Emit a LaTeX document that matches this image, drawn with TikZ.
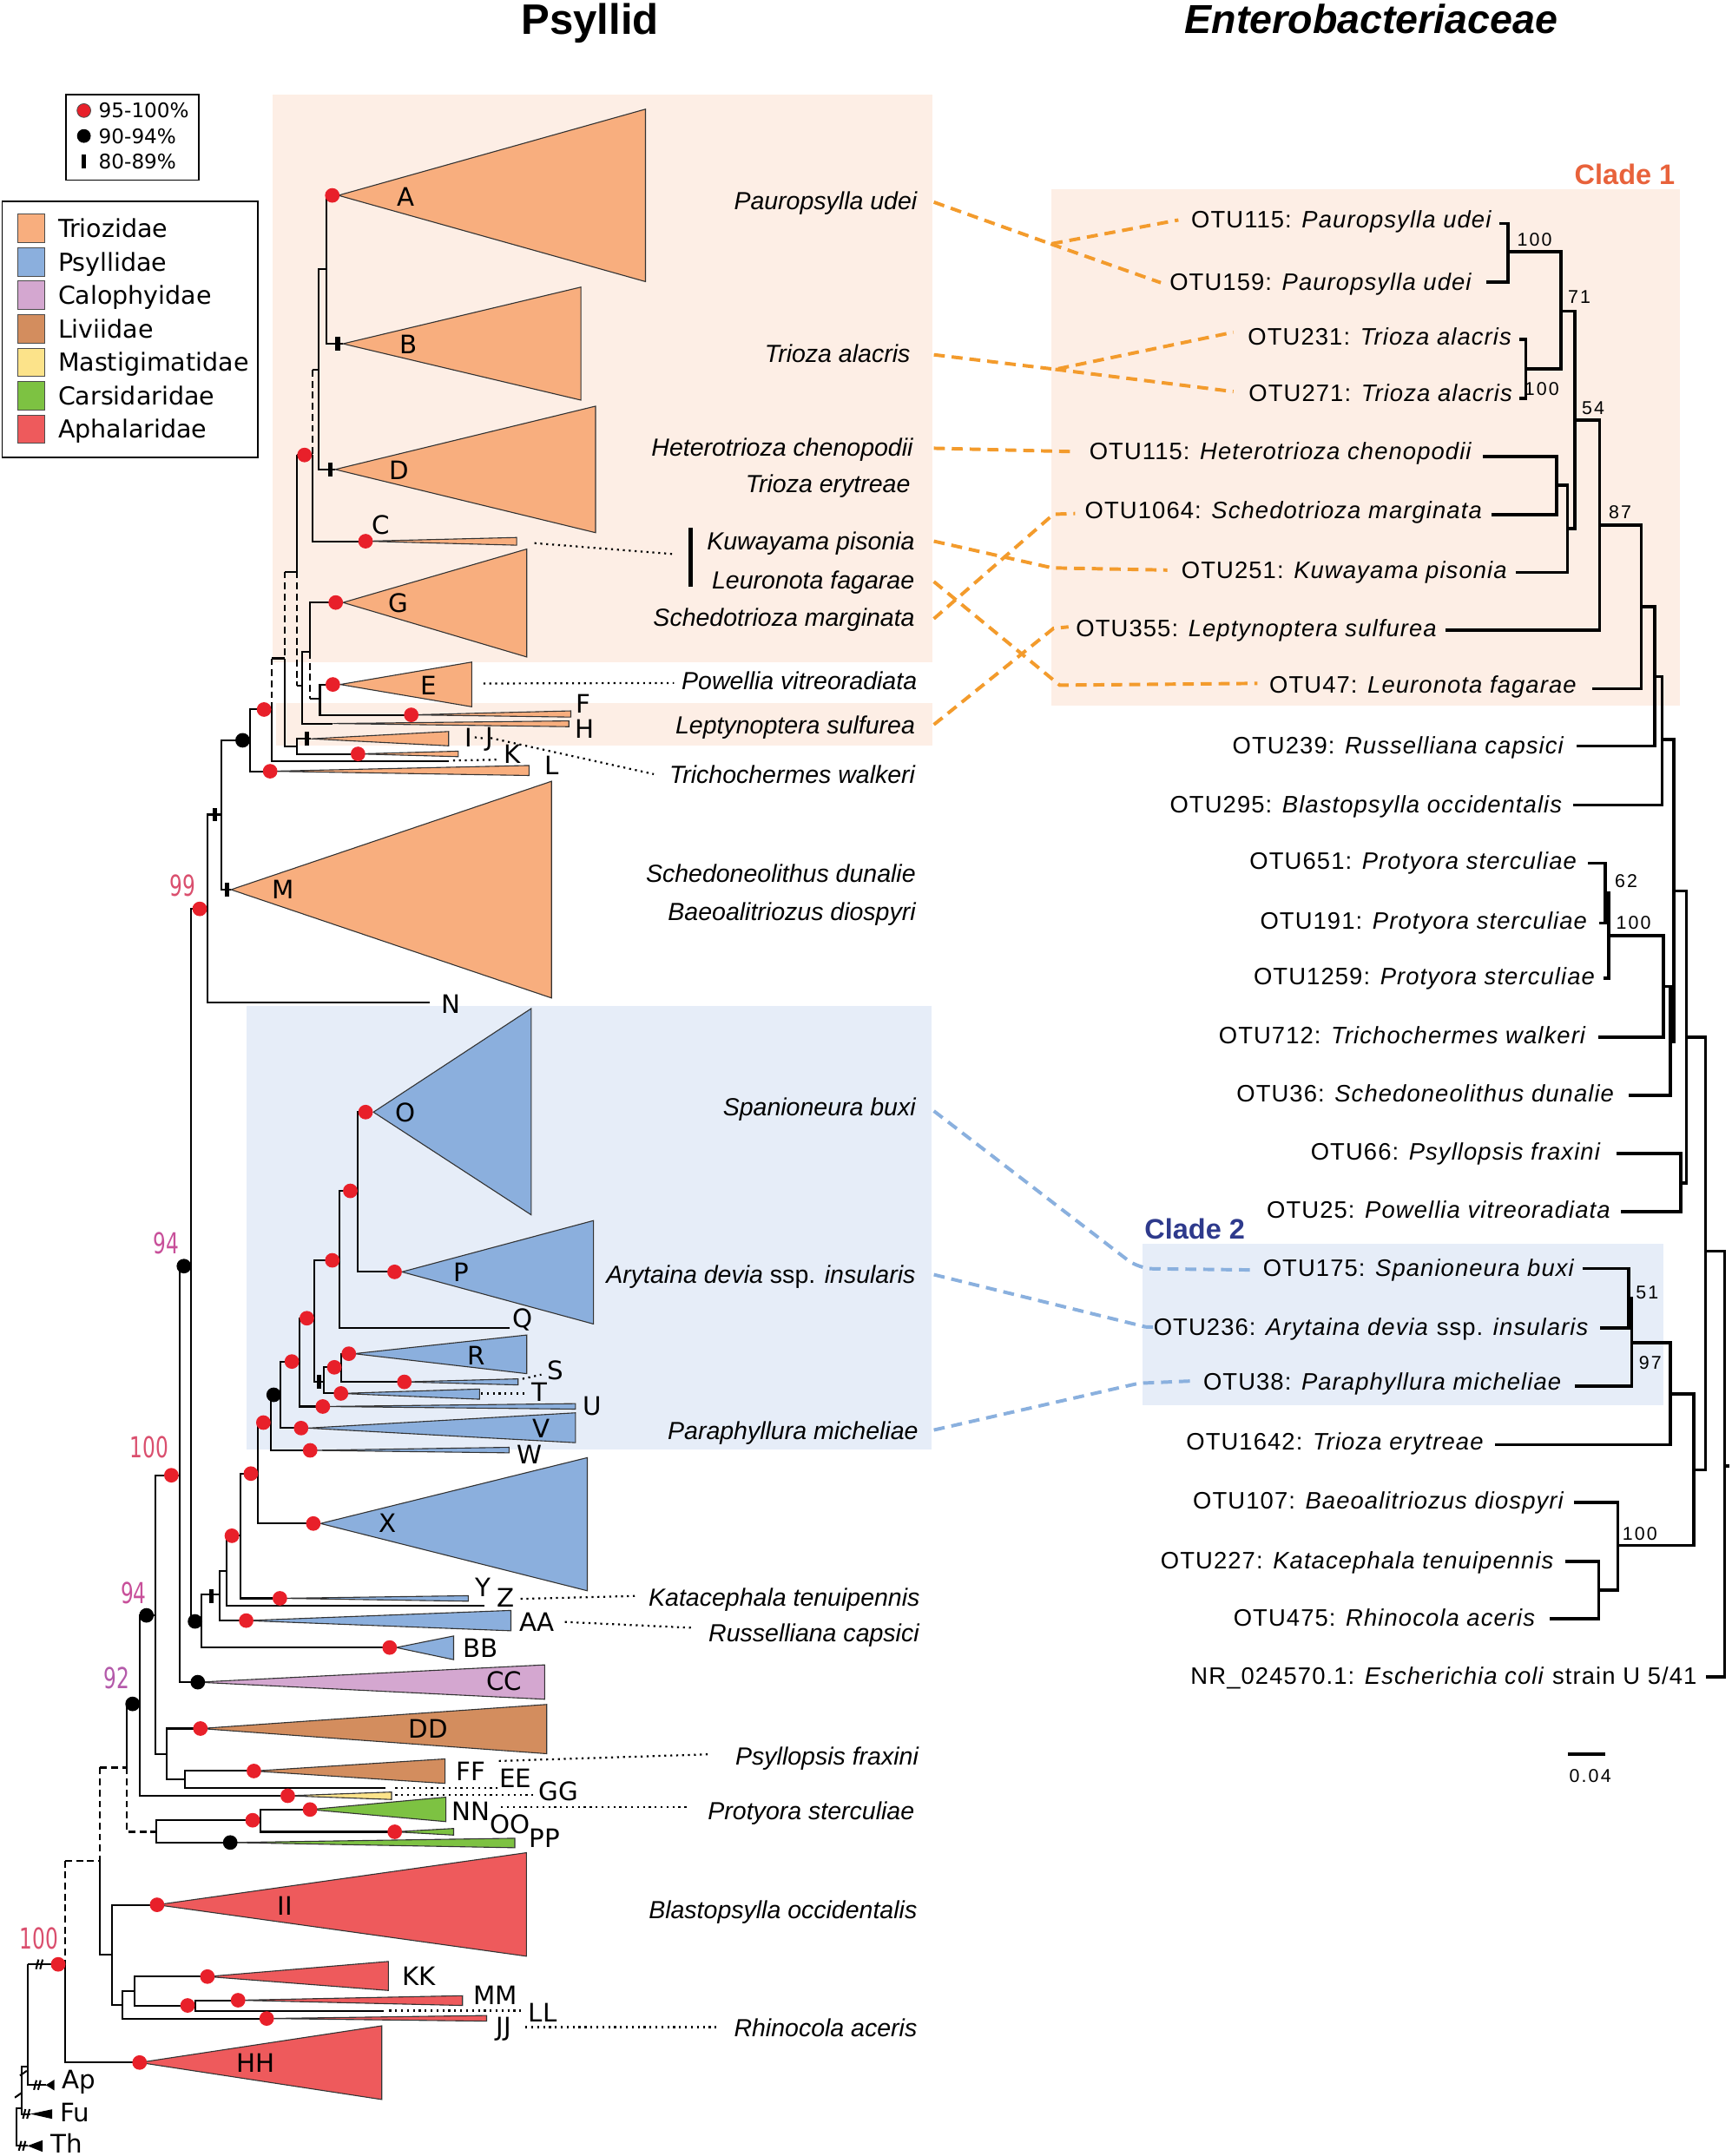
\documentclass[tikz,border=0pt]{standalone}
\usepackage{fontspec}
\setmainfont{Liberation Sans}
\newfontfamily\dvfont{DejaVu Sans}
\newfontfamily\dvnarrow[FakeStretch=0.7]{DejaVu Sans}
\newfontfamily\otufont[LetterSpace=4]{Liberation Sans}
\newfontfamily\bsfont[LetterSpace=10]{Liberation Sans}
\definecolor{cTrio}{HTML}{F8AE7E}
\definecolor{cPsy}{HTML}{8BAFDD}
\definecolor{cCalo}{HTML}{D4A7D0}
\definecolor{cLiv}{HTML}{D38D5E}
\definecolor{cMast}{HTML}{FCE38A}
\definecolor{cCars}{HTML}{7DC242}
\definecolor{cAph}{HTML}{EE5A5C}
\definecolor{bgO}{HTML}{FDEEE5}
\definecolor{bgB}{HTML}{E6EDF8}
\definecolor{cRed}{HTML}{E8202A}
\definecolor{cOdash}{HTML}{F39B2C}
\definecolor{cBdash}{HTML}{8AB0DE}
\definecolor{cClA}{HTML}{E8623B}
\definecolor{cClB}{HTML}{2E3A8C}
\definecolor{sA}{HTML}{DA4F6E}
\definecolor{sB}{HTML}{C8509A}
\definecolor{sC}{HTML}{B45AAA}
\tikzset{
  br/.style={line width=1.3pt},
  rb/.style={line width=2.3pt},
  dsh/.style={line width=1.3pt, dash pattern=on 5pt off 3pt},
  dot/.style={line width=1.4pt, dash pattern=on 1.4pt off 2.9pt},
  odash/.style={line width=2.5pt, cOdash, dash pattern=on 8pt off 5pt},
  bdash/.style={line width=2.5pt, cBdash, dash pattern=on 8pt off 5pt},
  trio/.style={draw=black!80, line width=0.7pt},
  lett/.style={font=\dvfont\fontsize{18.5}{20}\selectfont, inner sep=0pt},
  lname/.style={font=\fontsize{18}{20}\selectfont\itshape, anchor=base east, inner sep=0pt},
  otul/.style={font=\otufont\fontsize{17.3}{19}\selectfont, anchor=base east, inner sep=0pt},
  bsv/.style={font=\bsfont\fontsize{13.5}{15}\selectfont, inner sep=0pt},
  lsv/.style={font=\dvnarrow\fontsize{21}{22}\selectfont, inner sep=0pt},
}
\newcommand\phrd[2]{\fill[cRed] (#1,#2) circle[radius=5.3pt];}
\newcommand\phbd[2]{\fill[black] (#1,#2) circle[radius=5.3pt];}
\newcommand\phbar[2]{\fill[black] (#1-1.7,#2-5) rectangle (#1+1.7,#2+5);}
\newcommand\phtri[6]{\filldraw[trio,fill=#6] (#1,#2) -- (#3,#4) -- (#3,#5) -- cycle;}
\newcommand\phlab[3]{\node[lett] (L#1) at (#2,#3) {#1};}
\begin{document}
\begin{tikzpicture}[x=1pt,y=-1pt]
\useasboundingbox (0,0) rectangle (1259,1568);
% backgrounds
\fill[bgO] (198,69) rectangle (678,481.5);
\fill[bgO] (201,511) rectangle (678,542);
\fill[bgB] (179,731.4) rectangle (677,1054.4);
\fill[bgO] (764.7,137.5) rectangle (1221.2,513);
\fill[bgB] (830.6,904.5) rectangle (1209.3,1021.7);
% titles
\node[font=\fontsize{31}{33}\selectfont\bfseries, anchor=base, inner sep=0pt] (t1) at (429,25) {Psyllid};
\node[font=\fontsize{29.4}{32}\selectfont\bfseries\itshape, anchor=base, inner sep=0pt] (t2) at (997,24.5) {Enterobacteriaceae};
\node[font=\fontsize{20.5}{22}\selectfont\bfseries, text=cClA, anchor=base east, inner sep=0pt] (cl1) at (1218,134) {Clade 1};
\node[font=\fontsize{20.5}{22}\selectfont\bfseries, text=cClB, anchor=base west, inner sep=0pt] (cl2) at (832,901) {Clade 2};
% legend 1
\draw[line width=1pt] (48,68.8) rectangle (144.4,130.9);
\filldraw[fill=cRed, draw=black!70, line width=0.5pt] (61,80.4) circle[radius=5pt];
\fill[black] (61,98.9) circle[radius=5pt];
\phbar{61}{117.2}
\foreach \t/\y [count=\i] in {95-100\%/80.4, 90-94\%/98.9, 80-89\%/117.2}
  \node[font=\dvfont\fontsize{14.6}{16}\selectfont, anchor=base west, inner sep=0pt] (lg\i) at (71.6,\y+5.3) {\t};
% legend 2
\draw[line width=1pt] (1.7,146.3) rectangle (187.3,332.5);
\foreach \c/\t [count=\i] in {cTrio/Triozidae, cPsy/Psyllidae, cCalo/Calophyidae, cLiv/Liviidae, cMast/Mastigimatidae, cCars/Carsidaridae, cAph/Aphalaridae}{
  \pgfmathsetmacro\yy{166.1+24.33*(\i-1)}
  \filldraw[fill=\c, draw=black!70, line width=0.6pt] (13,\yy-10.3) rectangle (32.8,\yy+10.3);
  \node[font=\dvfont\fontsize{18}{20}\selectfont, anchor=base west, inner sep=0pt] (fam\i) at (42.1,\yy+6.6) {\t};
}
% orange connectors
\draw[odash] (679,147)--(764,177.4)--(856.8,160);
\draw[odash] (764,177.4)--(844,205.6);
\draw[odash] (679,258)--(767.3,268.6)--(896.8,241.6);
\draw[odash] (767.3,268.6)--(896.8,284.8);
\draw[odash] (679,326)--(781.7,328.5);
\draw[odash] (679,393.6)--(765,413)--(848.8,414.6);
\draw[odash] (679,423)--(770.5,498.3)--(914.3,497);
\draw[odash] (679,450)--(766,374)--(781.7,373.5);
\draw[odash] (679,527)--(766,457)--(776.9,455.9);
% blue connectors
\draw[bdash, rounded corners=10pt] (679,808)--(828,922.6)--(913,923.6);
\draw[bdash] (679,927)--(833,965)--(839,965.2);
\draw[bdash] (679,1040)--(828,1006)--(869.7,1004.2);
% dotted leader lines
\draw[dot] (388.6,395)--(490.1,403);
\draw[dot] (351.5,497.1)--(490.1,496.7);
\draw[dot] (356.7,536.7)--(475.4,563);
\draw[dot] (329.4,553.1)--(362,552.5);
\draw[dot] (345.2,536.2)--(352.5,537.1);
\draw[dot] (379.9,1002.8)--(393.6,999.7);
\draw[dot] (349.7,1013.4)--(381.3,1013.4);
\draw[dot] (378.5,1162.8)--(462.2,1160.7);
\draw[dot] (410.7,1179.6)--(502.5,1183.8);
\draw[dot] (362.7,1280.7)--(517.4,1275.8);
\draw[dot] (287.5,1300.2)--(363.6,1300.2);
\draw[dot] (287.5,1305.5)--(390.4,1305.5);
\draw[dot] (364.3,1314.3)--(501.3,1314.3);
\draw[dot] (283,1462.3)--(379,1462.3);
\draw[dot] (382,1474.3)--(520.6,1474.3);
\draw[line width=3pt] (502,384.1)--(502,426.8);
% triangles
\phtri{246}{142.1}{469.3}{79.4}{204.8}{cTrio}
\phtri{249.4}{250}{422.4}{208.8}{291}{cTrio}
\phtri{243.7}{341.4}{433}{295.4}{387.4}{cTrio}
\phtri{265.8}{393.6}{375.7}{390.9}{396.5}{cTrio}
\phtri{249.4}{438.2}{383}{399.3}{477.8}{cTrio}
\phtri{247.3}{497.8}{343}{481.5}{514}{cTrio}
\phtri{299}{519.9}{415}{517}{521.5}{cTrio}
\phtri{242}{526.2}{413.6}{524.3}{528.5}{cTrio}
\phtri{226.2}{537.3}{326.2}{532}{542.4}{cTrio}
\phtri{260.3}{548.3}{333.2}{546.3}{550.3}{cTrio}
\phtri{196.4}{560.9}{384.7}{556.7}{564}{cTrio}
\phtri{168}{647}{401}{568.2}{725.8}{cTrio}
\phtri{271.5}{808.8}{386.2}{733.5}{883.5}{cPsy}
\phtri{292.2}{925}{431.5}{887.7}{962.9}{cPsy}
\phtri{257.5}{984.5}{383}{970.9}{999}{cPsy}
\phtri{294}{1005}{376.7}{1002.8}{1007.2}{cPsy}
\phtri{247.9}{1013.4}{348.7}{1010.2}{1017.6}{cPsy}
\phtri{234.7}{1022.9}{418.4}{1020.8}{1024.8}{cPsy}
\phtri{224}{1038.6}{418.4}{1027.5}{1049.2}{cPsy}
\phtri{225.5}{1054.8}{370.1}{1052.6}{1056.6}{cPsy}
\phtri{233}{1108}{427}{1060.1}{1156.9}{cPsy}
\phtri{203.5}{1162.4}{340.5}{1160.5}{1164.5}{cPsy}
\phtri{179}{1178.6}{371.5}{1171.2}{1186}{cPsy}
\phtri{288}{1198.2}{329.8}{1189.8}{1207}{cPsy}
\phtri{143.8}{1223.4}{396}{1210.8}{1235.8}{cCalo}
\phtri{145.7}{1257.1}{397.5}{1239.6}{1275.4}{cLiv}
\phtri{184.6}{1288}{323.6}{1279.2}{1297}{cLiv}
\phtri{209.2}{1306}{284.7}{1303.3}{1308.7}{cMast}
\phtri{225.4}{1316}{324.2}{1307}{1324.8}{cCars}
\phtri{287}{1332.2}{329.8}{1329.8}{1334.6}{cCars}
\phtri{167.4}{1340}{374.3}{1336.9}{1343.8}{cCars}
\phtri{114.2}{1385.3}{382.8}{1347.4}{1422.7}{cAph}
\phtri{150.8}{1437.5}{282.4}{1426.5}{1447.6}{cAph}
\phtri{173.1}{1454.7}{336.3}{1451.4}{1458.5}{cAph}
\phtri{193.9}{1468}{353.8}{1465.8}{1469.9}{cAph}
\phtri{101.5}{1500}{277.6}{1473.3}{1526.9}{cAph}
% left tree branches (Triozidae part)
\draw[br] (241.6,142.1) -| (237.2,250) -- (249.4,250);
\draw[br] (237.2,195.7) -| (231.5,341.4) -- (243.7,341.4);
\draw[br] (231.5,269) -- (227,269);
\draw[dsh] (227,269) -- (227,330.9);
\draw[br] (227,330.9) |- (265.8,393.6);
\draw[br] (215.7,330.9) -- (227,330.9);
\draw[br] (215.7,330.9) -- (215.7,415.7);
\draw[dsh] (215.7,415.7) -- (215.7,498.8);
\draw[br] (215.7,498.8) -- (219.9,498.8);
\draw[br] (225.2,474) -| (219.9,526.2) -- (242,526.2);
\draw[br] (225.2,474) |- (244.1,438.2);
\draw[dsh] (225.2,474) -- (225.2,508.3);
\draw[br] (225.2,508.3) -- (232.6,508.3);
\draw[br] (242,497.8) -| (232.6,519.9) -- (299,519.9);
\draw[br] (207.3,415.7) -- (215.7,415.7);
\draw[dsh] (207.3,415.7) -- (207.3,478.8);
\draw[br] (207.3,478.8) |- (215.7,543);
\draw[br] (226.2,537.3) -| (215.7,548.3) -- (260.3,548.3);
\draw[br] (197.8,478.8) -- (207.3,478.8);
\draw[dsh] (197.8,478.8) -- (197.8,516);
\draw[br] (197.8,516) |- (326.2,553.5);
\draw[br] (197.8,516) -| (182,560.9) -- (196.4,560.9);
\draw[br] (182,538.4) -| (161,647) -- (168,647);
\draw[br] (161,592.4) -| (151.1,729.3) -- (312.5,729.3);
\draw[br] (151.1,661) -| (138.9,1179.2) -- (146.6,1179.2);
% Psyllidae
\draw[br] (159.8,1159.6) -| (146.6,1198.2) -- (283.3,1198.2);
\draw[br] (164.9,1142.4) -| (159.8,1178.6) -- (179,1178.6);
\draw[br] (174.8,1116.9) -| (164.9,1167.7) -- (352.3,1167.7);
\draw[br] (187.4,1071.7) -| (174.8,1162.4) -- (203.5,1162.4);
\draw[br] (197,1034.6) -| (187.4,1108) -- (227.8,1108);
\draw[br] (204.1,1014.4) -| (197,1054.8) -- (225.5,1054.8);
\draw[br] (217.8,990.2) -| (204.1,1038.6) -- (218.9,1038.6);
\draw[br] (228.4,958.7) -| (217.8,1022.9) -- (234.7,1022.9);
\draw[br] (246.7,916.6) -| (228.4,1005) -- (235.7,1005);
\draw[br] (248.3,994.4) -| (235.7,1013.4) -- (247.9,1013.4);
\draw[br] (253.6,984.5) -| (248.3,1005) -- (294,1005);
\draw[br] (259.9,866.1) -| (246.7,966) -- (370.4,966);
\draw[br] (265.8,808.8) -| (259.9,925) -- (286.9,925);
% lower families
\draw[br] (138.9,920.8) -| (130.5,1223.4) -- (143.8,1223.4);
\draw[br] (130.5,1072.9) -| (112.8,1276) -- (121.2,1276);
\draw[br] (145.7,1257.1) -| (121.2,1294.3) -- (134.7,1294.3);
\draw[br] (184.6,1288) -| (134.7,1300.2) -- (280.5,1300.2);
\draw[br] (112.8,1174.8) -| (101.5,1306) -- (209.2,1306);
\draw[br] (101.5,1239.2) -| (92.2,1285.5);
\draw[dsh] (92.2,1285.5) |- (113.6,1332.2);
\draw[dsh] (72.7,1285.5) -- (92.2,1285.5);
\draw[br] (189.4,1323.8) -| (113.6,1340) -- (167.4,1340);
\draw[br] (225.4,1316) -| (189.4,1332.2) -- (287,1332.2);
\draw[dsh] (72.7,1285.5) -- (72.7,1353.2);
\draw[dsh] (47.4,1353.2) -- (72.7,1353.2);
\draw[br] (72.7,1353.2) |- (81.7,1421.7);
\draw[br] (114.2,1385.3) -| (81.7,1458) -- (88.8,1458);
\draw[br] (98.1,1448) -| (88.8,1468) -- (193.9,1468);
\draw[br] (150.8,1437.5) -| (98.1,1458.5) -- (141.8,1458.5);
\draw[br] (173.1,1454.7) -| (141.8,1462.3) -- (279,1462.3);
\draw[dsh] (47.4,1353.2) -- (47.4,1428.6);
\draw[br] (20.3,1428.6) -| (47.4,1500) -- (101.5,1500);
% outgroups
\draw[br] (20.3,1428.6) |- (33.3,1516.4);
\draw[br] (20.3,1503) -| (15.5,1537.4) -- (22,1537.4);
\draw[br] (15.5,1533.3) -| (11.8,1560.6) -- (20,1560.6);
\fill (33.3,1516.4) -- (39.5,1512.5) -- (39.5,1520.3) -- cycle;
\fill (22,1537.4) -- (38,1534) -- (38,1541) -- cycle;
\fill (20,1560.6) -- (31,1556.5) -- (31,1565) -- cycle;
\foreach \x/\y in {28.5/1428.6, 27/1516.4, 19/1537.4, 16/1560.6}{
  \draw[line width=1.3pt] (\x-2.3,\y+3.5)--(\x-0.5,\y-3.5);
  \draw[line width=1.3pt] (\x+0.7,\y+3.5)--(\x+2.5,\y-3.5);
}
\foreach \x/\y in {17/1508, 13.3/1524}{
  \draw[line width=1.3pt] (\x-2.5,\y+1.5)--(\x+2.5,\y-2);
}
% bars
\phbar{245.6}{250}
\phbar{240}{341.4}
\phbar{223.1}{537.3}
\phbar{156.2}{592.4}
\phbar{165.2}{647}
\phbar{232.1}{1005}
\phbar{153.6}{1160.7}
% red dots
\foreach \x/\y in {241.6/142.1, 221.4/330.9, 265.8/393.6, 244.1/438.2, 242/497.8, 299/519.9, 260.3/548.3, 192/516, 196.4/560.9, 145.2/661,
  265.8/808.8, 254.7/866.1, 286.9/925, 241.6/916.6, 223.1/958.7, 253.6/984.5, 243.1/994.4, 294/1005, 247.9/1013.4, 212.2/990.2, 234.7/1022.9,
  218.9/1038.6, 191.5/1034.6, 225.5/1054.8, 182.4/1071.7, 227.8/1108, 124.6/1072.9, 168.6/1116.9, 203.5/1162.4, 179/1178.6, 283.3/1198.2,
  145.7/1257.1, 184.6/1288, 209.2/1306, 225.4/1316, 183.7/1323.8, 287/1332.2, 114.2/1385.3, 150.8/1437.5, 173.1/1454.7, 136.4/1458.5,
  193.9/1468, 42.3/1428.6, 101.5/1500}
  {\phrd{\x}{\y}}
% black dots
\foreach \x/\y in {176.4/538.4, 133.7/920.8, 199/1014.4, 141.8/1179.2, 106.5/1174.8, 143.8/1223.4, 96.4/1239.2, 167.4/1340}
  {\phbd{\x}{\y}}
% clade letters
\phlab{A}{295.3}{143.1}
\phlab{B}{297.2}{250.5}
\phlab{D}{290.4}{342}
\phlab{C}{276.7}{382}
\phlab{G}{289.4}{438.8}
\phlab{E}{311.5}{498.4}
\phlab{F}{424}{511.8}
\phlab{H}{425}{530}
\phlab{I}{341}{536.7}
\phlab{J}{355.7}{537.7}
\phlab{K}{372.5}{548.3}
\phlab{L}{401}{556.7}
\phlab{M}{206}{647}
\phlab{N}{327.9}{730.3}
\phlab{O}{294.7}{809.2}
\phlab{P}{335.7}{925}
\phlab{Q}{379.9}{959.7}
\phlab{R}{346.2}{986}
\phlab{S}{403.7}{996.5}
\phlab{T}{392.5}{1012.3}
\phlab{U}{430.4}{1022.9}
\phlab{V}{393.6}{1038.6}
\phlab{W}{384.8}{1057.6}
\phlab{X}{281.9}{1108}
\phlab{Y}{351}{1154.4}
\phlab{Z}{367.8}{1161.7}
\phlab{AA}{390.4}{1179.6}
\phlab{BB}{349.6}{1198.6}
\phlab{CC}{366.5}{1222.8}
\phlab{DD}{311.5}{1257.5}
\phlab{FF}{342.5}{1288}
\phlab{EE}{374.9}{1293.3}
\phlab{GG}{405.9}{1302.8}
\phlab{NN}{342.5}{1317.5}
\phlab{OO}{370.6}{1327}
\phlab{PP}{396}{1337}
\phlab{II}{207.2}{1385.9}
\phlab{KK}{304.4}{1437.5}
\phlab{MM}{360.2}{1451.1}
\phlab{LL}{394.6}{1463.8}
\phlab{JJ}{366.4}{1475.4}
\phlab{HH}{186}{1500.6}
\node[lett, anchor=west] (LAp) at (45.1,1514.3) {Ap};
\node[lett, anchor=west] (LFu) at (43.7,1536.3) {Fu};
\node[lett, anchor=west] (LTh) at (36.6,1558.5) {Th};
% left support values
\node[lsv, text=sA] (s99) at (133,644) {99};
\node[lsv, text=sB] (s94a) at (121,904) {94};
\node[lsv, text=sA] (s100a) at (108.5,1052.3) {100};
\node[lsv, text=sB] (s94b) at (97.2,1158.6) {94};
\node[lsv, text=sC] (s92) at (84.6,1220.5) {92};
\node[lsv, text=sA] (s100b) at (28.2,1410) {100};
% left species names
\node[lname] (n1) at (667,152.4) {Pauropsylla udei};
\node[lname] (n2) at (662,263.4) {Trioza alacris};
\node[lname] (n3) at (664,331.4) {Heterotrioza chenopodii};
\node[lname] (n4) at (662,358.4) {Trioza erytreae};
\node[lname] (n5) at (665.3,400) {Kuwayama pisonia};
\node[lname] (n6) at (665,428.4) {Leuronota fagarae};
\node[lname] (n7) at (665.3,455.7) {Schedotrioza marginata};
\node[lname] (n8) at (666.9,501.4) {Powellia vitreoradiata};
\node[lname] (n9) at (665.5,533.6) {Leptynoptera sulfurea};
\node[lname] (n10) at (665.6,569.4) {Trichochermes walkeri};
\node[lname] (n11) at (666,641.4) {Schedoneolithus dunalie};
\node[lname] (n12) at (666,669.4) {Baeoalitriozus diospyri};
\node[lname] (n13) at (666,811.4) {Spanioneura buxi};
\node[lname] (n14) at (665.8,933.5) {Arytaina devia \upshape ssp. \itshape insularis};
\node[lname] (n15) at (667.8,1047.1) {Paraphyllura micheliae};
\node[lname] (n16) at (669,1168.4) {Katacephala tenuipennis};
\node[lname] (n17) at (668.5,1193.8) {Russelliana capsici};
\node[lname] (n18) at (668,1283.4) {Psyllopsis fraxini};
\node[lname] (n19) at (665,1323.4) {Protyora sterculiae};
\node[lname] (n20) at (667,1395.4) {Blastopsylla occidentalis};
\node[lname] (n21) at (667,1481.4) {Rhinocola aceris};
% right tree
\draw[rb] (1090.2,162.5) -| (1096.5,205) -- (1080.6,205);
\draw[rb] (1096.5,183.2) -| (1134.9,268.1) -- (1109.4,268.1);
\draw[rb] (1104.7,247) -| (1109.4,289.8) -- (1104.7,289.8);
\draw[rb] (1134.9,226.2) -| (1145.2,384.6) -- (1139.7,384.6);
\draw[rb] (1078.3,332.2) -| (1131.7,374.2) -- (1084.4,374.2);
\draw[rb] (1131.7,353) -| (1139.7,416.4) -- (1102.3,416.4);
\draw[rb] (1145.2,305.5) -| (1163,458.3) -- (1051.1,458.3);
\draw[rb] (1163,381.7) -| (1193.4,500.8) -- (1157.9,500.8);
\draw[rb] (1193.4,441.3) -| (1203,542.5) -- (1146.4,542.5);
\draw[rb] (1203,492) -| (1208.5,585.4) -- (1143.6,585.4);
\draw[rb] (1208.5,538) -| (1217.1,757.4) -- (1214.4,757.4);
\draw[rb] (1154.8,627.7) -| (1167,671.3) -- (1163,671.3);
\draw[rb] (1167,649.5) -| (1169.5,711.5) -- (1166,711.5);
\draw[rb] (1169.5,680.4) -| (1209.3,754.5) -- (1161.8,754.5);
\draw[rb] (1209.3,717.3) -| (1214.4,796.8) -- (1184.2,796.8);
\draw[rb] (1217.1,648) -| (1226.1,860.2) -- (1221.9,860.2);
\draw[rb] (1175.2,839) -| (1221.9,881.4) -- (1178.6,881.4);
\draw[rb] (1226.1,754.5) -| (1240.1,1068.9) -- (1231.7,1068.9);
\draw[rb] (1150.6,922.6) -| (1184.2,965.9) -- (1163.2,965.9);
\draw[rb] (1184.2,944.2) -| (1186.5,1008) -- (1145,1008);
\draw[rb] (1186.5,976.7) -| (1214.4,1050.6) -- (1086.9,1050.6);
\draw[rb] (1214.4,1013.8) -| (1231.7,1124) -- (1176.4,1124);
\draw[rb] (1144.5,1092.6) -| (1176.4,1156.5) -- (1162.4,1156.5);
\draw[rb] (1138,1135.6) -| (1162.4,1177.3) -- (1126.8,1177.3);
\draw[rb] (1240.1,910) -| (1254,1219.6) -- (1240.6,1219.6);
\draw[rb] (1254,1066) -- (1257.5,1066);
\draw[rb] (1140,1275.8) -- (1167,1275.8);
% right support values
\node[bsv] (b1) at (1115.7,174.5) {100};
\node[bsv] (b2) at (1148.2,215.9) {71};
\node[bsv] (b3) at (1121,283) {100};
\node[bsv] (b4) at (1158.3,296.8) {54};
\node[bsv] (b5) at (1178,372.2) {87};
\node[bsv] (b6) at (1182.4,640.9) {62};
\node[bsv] (b7) at (1187.7,671.4) {100};
\node[bsv] (b8) at (1197.6,939.9) {51};
\node[bsv] (b9) at (1199.9,991.2) {97};
\node[bsv] (b10) at (1192.3,1115.3) {100};
\node[bsv] (b11) at (1156.2,1291.3) {0.04};
% OTU labels
\node[otul] (o1) at (1085.4,166) {OTU115: \textit{Pauropsylla udei}};
\node[otul] (o2) at (1071,211) {OTU159: \textit{Pauropsylla udei}};
\node[otul] (o3) at (1099.8,250.9) {OTU231: \textit{Trioza alacris}};
\node[otul] (o4) at (1100.4,292) {OTU271: \textit{Trioza alacris}};
\node[otul] (o5) at (1071,334.5) {OTU115: \textit{Heterotrioza chenopodii}};
\node[otul] (o6) at (1078.3,376.9) {OTU1064: \textit{Schedotrioza marginata}};
\node[otul] (o7) at (1096.5,420.6) {OTU251: \textit{Kuwayama pisonia}};
\node[otul] (o8) at (1045.4,463.1) {OTU355: \textit{Leptynoptera sulfurea}};
\node[otul] (o9) at (1147,504.3) {OTU47: \textit{Leuronota fagarae}};
\node[otul] (o10) at (1138,548.5) {OTU239: \textit{Russelliana capsici}};
\node[otul] (o11) at (1136.6,590.9) {OTU295: \textit{Blastopsylla occidentalis}};
\node[otul] (o12) at (1147.2,632.3) {OTU651: \textit{Protyora sterculiae}};
\node[otul] (o13) at (1154.8,675.9) {OTU191: \textit{Protyora sterculiae}};
\node[otul] (o14) at (1160.4,716.2) {OTU1259: \textit{Protyora sterculiae}};
\node[otul] (o15) at (1154,759.1) {OTU712: \textit{Trichochermes walkeri}};
\node[otul] (o16) at (1174.4,801.4) {OTU36: \textit{Schedoneolithus dunalie}};
\node[otul] (o17) at (1164.6,843.7) {OTU66: \textit{Psyllopsis fraxini}};
\node[otul] (o18) at (1171.6,886) {OTU25: \textit{Powellia vitreoradiata}};
\node[otul] (o19) at (1145.6,928.2) {OTU175: \textit{Spanioneura buxi}};
\node[otul] (o20) at (1155.6,971.2) {OTU236: \textit{Arytaina devia} ssp. \textit{insularis}};
\node[otul] (o21) at (1136,1011.1) {OTU38: \textit{Paraphyllura micheliae}};
\node[otul] (o22) at (1079.4,1054.6) {OTU1642: \textit{Trioza erytreae}};
\node[otul] (o23) at (1138,1097.2) {OTU107: \textit{Baeoalitriozus diospyri}};
\node[otul] (o24) at (1130.5,1140.7) {OTU227: \textit{Katacephala tenuipennis}};
\node[otul] (o25) at (1117,1182.7) {OTU475: \textit{Rhinocola aceris}};
\node[otul] (o26) at (1233.9,1224.8) {NR\_024570.1: \textit{Escherichia coli} strain U 5/41};
\end{tikzpicture}
\end{document}
